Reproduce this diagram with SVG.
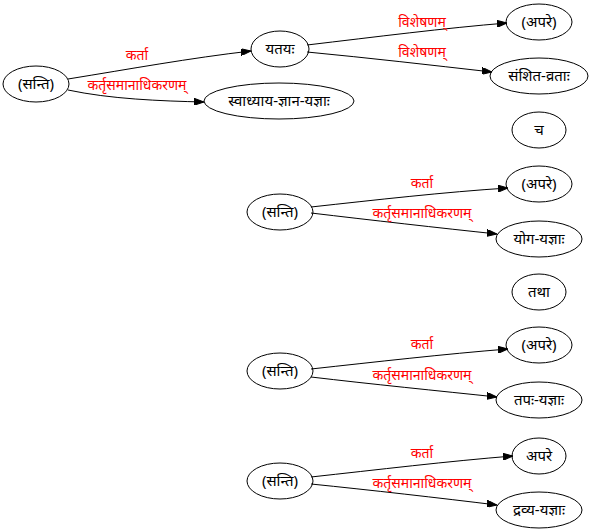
<svg xmlns="http://www.w3.org/2000/svg" width="592" height="530" viewBox="0 0 592 530">
<defs>
<style>
.node ellipse{fill:none;stroke:#000;stroke-width:1}
.node text{font-family:"Noto Sans","Noto Sans Devanagari","Liberation Sans",sans-serif;font-size:15px;text-anchor:middle;fill:#000}
.edge path{fill:none;stroke:#000;stroke-width:1}
.edge text{font-family:"Noto Sans","Noto Sans Devanagari","Liberation Sans",sans-serif;font-size:14px;text-anchor:middle;fill:#ff0000}
</style>
<marker id="arr" viewBox="0 0 10 7" refX="10" refY="3.5" markerWidth="10" markerHeight="7" markerUnits="userSpaceOnUse" orient="auto">
<path d="M0,0 L10,3.5 L0,7 Z" fill="#000" stroke="#000"/>
</marker>
</defs>
<rect width="592" height="530" fill="#fff"/>
<g id="edges">
<g class="edge"><path d="M68,79 C130,69 190,58 251,51" marker-end="url(#arr)"/><text x="137" y="60">कर्ता</text></g>
<g class="edge"><path d="M68,90 C110,99 160,101 204,102" marker-end="url(#arr)"/><text x="137" y="90">कर्तृसमानाधिकरणम्</text></g>
<g class="edge"><path d="M307,45 C375,37 445,28 507,23" marker-end="url(#arr)"/><text x="422" y="27">विशेषणम्</text></g>
<g class="edge"><path d="M307,52 C370,58 430,65 492,72" marker-end="url(#arr)"/><text x="422" y="57">विशेषणम्</text></g>
<g class="edge"><path d="M311,207 C375,200 445,192 508,188" marker-end="url(#arr)"/><text x="422" y="188">कर्ता</text></g>
<g class="edge"><path d="M311,213 C370,220 440,228 497,234" marker-end="url(#arr)"/><text x="422" y="218">कर्तृसमानाधिकरणम्</text></g>
<g class="edge"><path d="M311,369 C375,362 445,354 508,349" marker-end="url(#arr)"/><text x="422" y="349">कर्ता</text></g>
<g class="edge"><path d="M311,377 C370,384 440,391 497,397" marker-end="url(#arr)"/><text x="422" y="380">कर्तृसमानाधिकरणम्</text></g>
<g class="edge"><path d="M311,477 C375,470 450,461 513,456" marker-end="url(#arr)"/><text x="422" y="458">कर्ता</text></g>
<g class="edge"><path d="M311,484 C370,490 440,498 497,505" marker-end="url(#arr)"/><text x="422" y="488">कर्तृसमानाधिकरणम्</text></g>
</g>
<g id="n1" class="node"><ellipse cx="36" cy="84" rx="33" ry="18"/><text x="36" y="89">(सन्ति)</text></g>
<g id="n2" class="node"><ellipse cx="280" cy="49" rx="29" ry="18"/><text x="280" y="54">यतयः</text></g>
<g id="n3" class="node"><ellipse cx="279" cy="101" rx="75" ry="18"/><text x="279" y="106">स्वाध्याय-ज्ञान-यज्ञाः</text></g>
<g id="n4" class="node"><ellipse cx="539" cy="22" rx="33" ry="18"/><text x="539" y="27">(अपरे)</text></g>
<g id="n5" class="node"><ellipse cx="539" cy="76" rx="49" ry="18"/><text x="539" y="81">संशित-व्रताः</text></g>
<g id="n6" class="node"><ellipse cx="539" cy="130" rx="27" ry="18"/><text x="539" y="135">च</text></g>
<g id="n7" class="node"><ellipse cx="280" cy="212" rx="33" ry="18"/><text x="280" y="217">(सन्ति)</text></g>
<g id="n8" class="node"><ellipse cx="539" cy="184" rx="33" ry="18"/><text x="539" y="189">(अपरे)</text></g>
<g id="n9" class="node"><ellipse cx="539" cy="239" rx="43" ry="18"/><text x="539" y="244">योग-यज्ञाः</text></g>
<g id="n10" class="node"><ellipse cx="539" cy="292" rx="27" ry="18"/><text x="539" y="297">तथा</text></g>
<g id="n11" class="node"><ellipse cx="280" cy="371" rx="33" ry="18"/><text x="280" y="376">(सन्ति)</text></g>
<g id="n12" class="node"><ellipse cx="539" cy="345" rx="33" ry="18"/><text x="539" y="350">(अपरे)</text></g>
<g id="n13" class="node"><ellipse cx="539" cy="400" rx="43" ry="18"/><text x="539" y="405">तपः-यज्ञाः</text></g>
<g id="n14" class="node"><ellipse cx="280" cy="481" rx="33" ry="18"/><text x="280" y="486">(सन्ति)</text></g>
<g id="n15" class="node"><ellipse cx="539" cy="456" rx="27" ry="18"/><text x="539" y="461">अपरे</text></g>
<g id="n16" class="node"><ellipse cx="539" cy="510" rx="43" ry="18"/><text x="539" y="515">द्रव्य-यज्ञाः</text></g>
</svg>
